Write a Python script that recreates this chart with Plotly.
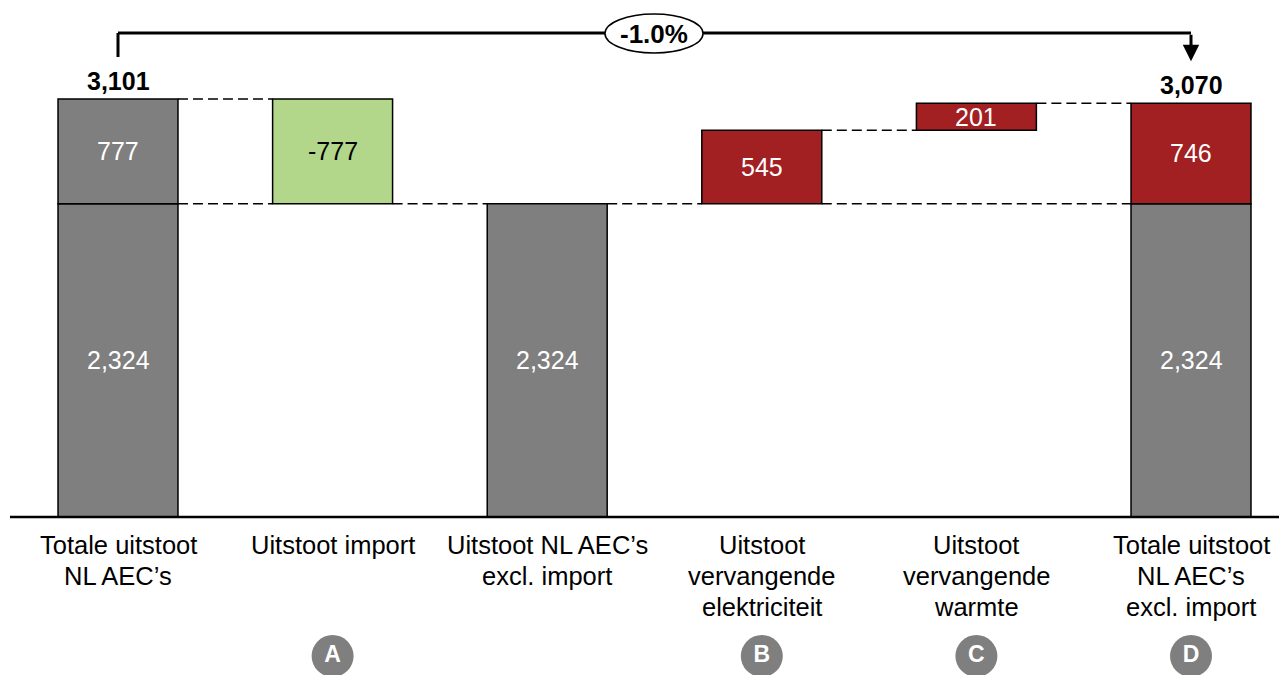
import plotly.graph_objects as go

# ---- data ----
categories = ["Totale uitstoot<br>NL AEC\u2019s", "Uitstoot import", "Uitstoot NL AEC\u2019s<br>excl. import",
              "Uitstoot<br>vervangende<br>elektriciteit", "Uitstoot<br>vervangende<br>warmte",
              "Totale uitstoot<br>NL AEC\u2019s<br>excl. import"]
base_value = 2324
import_value = 777
start_total = 3101
elec_value = 545
heat_value = 201
end_total = 3070
markers = ["", "A", "", "B", "C", "D"]

GRAY = "#7F7F7F"
GREEN = "#B2D68A"
RED = "#A21F22"
FONT = "Liberation Sans"

# page body has an 8px margin; figure sized so it ends at the window edge
OFF = 8
W, H = 1287 - OFF, 675 - OFF
def py(p):  # reference pixel y -> paper
    return 1 - (p - OFF) / H
def px(p):  # reference pixel x -> paper
    return (p - OFF) / W

bw = 0.559

# segments: (x, base, value, color, textcolor, label)
segments = [
    (0, 0, base_value, GRAY, "white", f"{base_value:,}"),
    (0, base_value, import_value, GRAY, "white", f"{import_value:,}"),
    (1, base_value, import_value, GREEN, "black", f"-{import_value:,}"),
    (2, 0, base_value, GRAY, "white", f"{base_value:,}"),
    (3, base_value, elec_value, RED, "white", f"{elec_value:,}"),
    (4, base_value + elec_value, heat_value, RED, "white", f"{heat_value:,}"),
    (5, 0, base_value, GRAY, "white", f"{base_value:,}"),
    (5, base_value, end_total - base_value, RED, "white", f"{end_total - base_value:,}"),
]

fig = go.Figure()
for sx, sb, sv, sc, tc, lab in segments:
    fig.add_trace(go.Bar(x=[sx], y=[sv], base=[sb], width=bw,
                         marker=dict(color=sc, line=dict(color="black", width=1.5)),
                         showlegend=False, hoverinfo="skip"))
    fig.add_annotation(x=sx, y=sb + sv / 2, text=lab, showarrow=False, yanchor="middle",
                       font=dict(family=FONT, size=25, color=tc))

# totals labels
for tx, tv in [(0, start_total), (5, end_total)]:
    fig.add_annotation(x=tx, y=tv, text=f"<b>{tv:,}</b>", showarrow=False, yanchor="bottom", yshift=2,
                       font=dict(family=FONT, size=25, color="black"))

# dashed connectors
dash = dict(color="black", width=1.5, dash="10px,5px")
conn = [
    (0, 1, start_total),
    (0, 1, base_value),
    (1, 2, base_value),
    (2, 3, base_value),
    (3, 5, base_value),
    (3, 4, base_value + elec_value),
    (4, 5, end_total),
]
for a, b, yv in conn:
    fig.add_shape(type="line", xref="x", yref="y", x0=a + bw / 2, x1=b - bw / 2, y0=yv, y1=yv,
                  line=dash, layer="below")

# axis baseline
fig.add_shape(type="line", xref="paper", yref="y", x0=px(10), x1=1, y0=0, y1=0,
              line=dict(color="black", width=2.5))

# category labels (per line)
for i, c in enumerate(categories):
    for j, line in enumerate(c.split("<br>")):
        fig.add_annotation(x=i, xref="x", y=py(545 + 31 * j), yref="paper", text=line, showarrow=False,
                           font=dict(family=FONT, size=25.5, color="black"), yanchor="middle", xanchor="center")

# bracket
bk = dict(color="black", width=3)
fig.add_shape(type="line", xref="x", yref="paper", x0=0, x1=0, y0=py(57), y1=py(33), line=bk)
fig.add_shape(type="line", xref="x", yref="paper", x0=0, x1=5, y0=py(33), y1=py(33), line=bk)
fig.add_annotation(x=5, y=end_total, xref="x", yref="y", ax=0, ay=-70, text="", showarrow=True,
                   arrowhead=2, arrowsize=1.1, arrowwidth=3, arrowcolor="black", standoff=42)
# ellipse with change
pct = (end_total - start_total) / start_total * 100
fig.add_shape(type="circle", xref="paper", yref="paper", x0=px(605), x1=px(703), y0=py(53), y1=py(14),
              fillcolor="white", line=dict(color="black", width=1.5))
fig.add_annotation(x=px(654), y=py(34), xref="paper", yref="paper", text=f"<b>{pct:.1f}%</b>", showarrow=False,
                   xanchor="center", yanchor="middle", font=dict(family=FONT, size=26, color="black"))

# letter markers
y_scale = (517 - 99) / start_total  # px per unit in reference
mx = [i for i, m in enumerate(markers) if m]
mt = [m for m in markers if m]
fig.add_trace(go.Scatter(x=mx, y=[-(656 - 517) / y_scale] * len(mx), mode="markers+text",
                         text=[f"<b>{t}</b>" for t in mt],
                         textposition="middle center", marker=dict(size=42, color=GRAY),
                         textfont=dict(family=FONT, size=23, color="white"), cliponaxis=False,
                         showlegend=False, hoverinfo="skip"))

# axes: bar i centred at reference px 118 + 214.6*i ; baseline at reference py 517
x_left = -(118 - OFF) / 214.6
x_right = (1287 - 118) / 214.6
y_top = (517 - OFF) / y_scale
y_bot = -(675 - 517) / y_scale

fig.update_layout(width=W, height=H, margin=dict(l=0, r=0, t=0, b=0), barmode="overlay",
                  plot_bgcolor="white", paper_bgcolor="white",
                  xaxis=dict(range=[x_left, x_right], visible=False, fixedrange=True),
                  yaxis=dict(range=[y_bot, y_top], visible=False, fixedrange=True))
fig.write_html("out.html")
